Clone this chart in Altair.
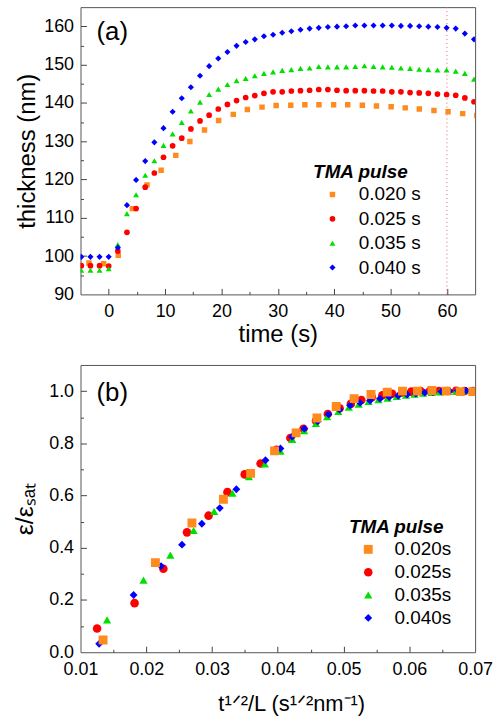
import altair as alt
import pandas as pd

FONT = "Liberation Sans"
W, H = 397, 289

# ---------------- panel (a) data ----------------
SERIES_A = ["0.020 s", "0.025 s", "0.035 s", "0.040 s"]
COLORS = ["#FF8A1E", "#FF0000", "#00E000", "#0000FF"]
SHAPES = ["square", "circle", "triangle-up", "diamond"]

time_grid = [-4.86, -3.24, -1.62, 0.0, 1.62, 3.24, 4.86, 6.48, 8.1, 9.72, 11.34,
             12.96, 14.58, 16.2, 17.82, 19.44, 21.06, 22.68, 24.3, 25.92, 27.54,
             29.16, 30.78, 32.4, 34.02, 35.64, 37.26, 38.88, 40.5, 42.12, 43.74,
             45.36, 46.98, 48.6, 50.22, 51.84, 53.46, 55.08, 56.7, 58.32, 59.94,
             61.56, 63.18, 64.8]

time_020 = [-3.5, -0.9, 1.7, 4.2, 6.8, 9.3, 11.9, 14.4, 17.0, 19.5, 22.1, 24.6,
            27.2, 29.7, 32.3, 34.8, 37.3, 39.9, 42.4, 45.0, 47.5, 50.1, 52.6,
            55.1, 57.7, 60.2, 62.8, 65.3]
thick_020 = [98.2, 98.0, 100.2, 112.4, 118.6, 122.4, 126.3, 129.9, 132.9, 135.4,
             137.0, 138.3, 138.9, 139.3, 139.4, 139.5, 139.5, 139.5, 139.5, 139.4,
             139.2, 139.0, 138.7, 138.4, 138.0, 137.7, 137.2, 136.7]

thick_025 = [97.5, 97.5, 97.5, 97.4, 101.3, 106.2, 112.4, 118.0, 121.7, 125.8,
             128.8, 130.8, 133.2, 135.3, 136.8, 138.4, 139.6, 140.6, 141.4, 141.9,
             142.5, 142.9, 142.9, 143.1, 143.2, 143.3, 143.5, 143.5, 143.3, 143.2,
             143.2, 143.2, 143.1, 143.1, 142.9, 142.9, 142.7, 142.6, 142.5, 142.3,
             142.2, 142.0, 141.3, 140.3]

thick_035 = [96.3, 96.3, 96.3, 96.7, 103.0, 111.1, 116.0, 121.1, 124.9, 128.9,
             131.9, 134.9, 137.9, 140.2, 142.2, 143.6, 144.8, 145.8, 146.4, 147.1,
             147.7, 148.1, 148.5, 148.7, 149.0, 149.1, 149.5, 149.4, 149.4, 149.4,
             149.5, 149.7, 149.5, 149.4, 149.3, 149.1, 149.0, 148.8, 148.7, 148.6,
             148.6, 148.3, 147.7, 146.2]

thick_040 = [99.8, 99.8, 99.8, 99.8, 102.2, 113.3, 119.9, 124.8, 129.7, 133.4,
             137.7, 141.2, 144.1, 147.1, 149.6, 151.6, 153.3, 154.9, 155.9, 156.6,
             157.4, 157.8, 158.3, 158.7, 159.1, 159.4, 159.6, 159.8, 159.9, 160.0,
             160.2, 160.2, 160.2, 160.2, 160.2, 160.1, 160.1, 160.0, 159.9, 159.8,
             159.6, 159.4, 158.1, 156.6]

# ---------------- panel (b) data ----------------
SERIES_B = ["0.020s", "0.025s", "0.035s", "0.040s"]

x_020 = [0.01343, 0.02139, 0.02694, 0.03173, 0.03586, 0.0395, 0.04278, 0.04595,
         0.04888, 0.0516, 0.05417, 0.05664, 0.05896, 0.06122, 0.06344, 0.06561,
         0.06773, 0.06965]
e_020 = [0.047, 0.343, 0.495, 0.586, 0.685, 0.771, 0.840, 0.897, 0.941, 0.971,
         0.987, 0.996, 1.0, 1.0, 1.002, 1.0, 0.998, 0.998]

x_025 = [0.01252, 0.01822, 0.0226, 0.02619, 0.02947, 0.03234, 0.03496, 0.03738,
         0.0398, 0.0419, 0.0439, 0.0458, 0.0476, 0.0494, 0.0511, 0.0527, 0.0543,
         0.0559, 0.0574, 0.0589, 0.0603, 0.0617, 0.0631, 0.0645, 0.0658, 0.0671,
         0.0684, 0.0697]
e_025 = [0.091, 0.188, 0.320, 0.459, 0.523, 0.613, 0.681, 0.723, 0.775, 0.820,
         0.856, 0.886, 0.912, 0.934, 0.951, 0.966, 0.976, 0.984, 0.990, 0.995,
         0.998, 1.0, 1.0, 1.0, 1.0, 1.001, 1.0, 1.0]

x_035 = [0.01404, 0.01958, 0.02366, 0.0272, 0.03032, 0.0331, 0.03561, 0.03803,
         0.0404, 0.0422, 0.0440, 0.0458, 0.0475, 0.0492, 0.0508, 0.0523, 0.0538,
         0.0553, 0.0567, 0.0581, 0.0595, 0.0608, 0.0621, 0.0634, 0.0646, 0.0659,
         0.0671, 0.0683, 0.0695]
e_035 = [0.124, 0.276, 0.372, 0.466, 0.539, 0.609, 0.672, 0.721, 0.770, 0.815,
         0.848, 0.876, 0.902, 0.922, 0.938, 0.950, 0.960, 0.967, 0.973, 0.979,
         0.984, 0.988, 0.992, 0.995, 0.997, 0.999, 1.0, 1.001, 1.002]

x_040 = [0.01283, 0.01807, 0.02225, 0.02543, 0.02845, 0.03118, 0.0337, 0.03576,
         0.03813, 0.0404, 0.04217, 0.04403, 0.04605, 0.04771, 0.04938, 0.05099,
         0.0525, 0.05402, 0.05553, 0.05694, 0.0583, 0.05966, 0.06098, 0.06234,
         0.0636, 0.06487, 0.06611, 0.06737, 0.06863, 0.0698]
e_040 = [0.032, 0.219, 0.330, 0.412, 0.492, 0.552, 0.624, 0.683, 0.735, 0.780,
         0.825, 0.856, 0.884, 0.911, 0.929, 0.945, 0.955, 0.964, 0.971, 0.977,
         0.982, 0.987, 0.990, 0.994, 0.996, 0.998, 1.0, 1.002, 1.002, 1.002]

PANEL_LABELS = ["(a)", "(b)"]
MARKER_LINE = [60]

# ---------------- tables ----------------
rows_a = []
for t, v in zip(time_020, thick_020):
    rows_a.append({"t": t, "v": v, "series": SERIES_A[0]})
for vals, s in [(thick_025, SERIES_A[1]), (thick_035, SERIES_A[2]), (thick_040, SERIES_A[3])]:
    for t, v in zip(time_grid, vals):
        rows_a.append({"t": t, "v": v, "series": s})
df_a = pd.DataFrame(rows_a)

rows_b = []
for xs, es, s in [(x_025, e_025, SERIES_B[1]), (x_035, e_035, SERIES_B[2]),
                  (x_040, e_040, SERIES_B[3]), (x_020, e_020, SERIES_B[0])]:
    for x, e in zip(xs, es):
        rows_b.append({"x": x, "e": e, "series": s})
df_b = pd.DataFrame(rows_b)

df_rule = pd.DataFrame({"t": MARKER_LINE})


def legend(x, y, symoff, laboff, rowpad):
    return alt.Legend(
        title="TMA pulse", orient="none", legendX=x, legendY=y,
        titleFont=FONT, titleFontSize=19, titleFontWeight="bold",
        titleFontStyle="italic", titleColor="black", titlePadding=3,
        labelFont=FONT, labelFontSize=19, labelColor="black",
        symbolOffset=symoff, labelOffset=laboff, rowPadding=rowpad, padding=0,
        symbolStrokeWidth=0, symbolOpacity=1,
    )


def tick_layers(data, xf, yf, xs, ys, xmaj, xmin, ymaj, ymin):
    out = []
    for xv, yv, sz in [(xmaj, ymaj, 6), (xmin, ymin, 3)]:
        out.append(
            alt.Chart(data).mark_point(opacity=0, size=1).encode(
                x=alt.X(xf, scale=xs, axis=alt.Axis(
                    orient="top", offset=-H, values=xv, labels=False, domain=False,
                    grid=False, ticks=True, tickSize=sz, tickColor="#444", title=None)),
                y=alt.Y(yf, scale=ys, axis=alt.Axis(
                    orient="right", offset=-W, values=yv, labels=False, domain=False,
                    grid=False, ticks=True, tickSize=sz, tickColor="#444", title=None)),
            )
        )
    return out


def panel_label(text, y):
    return alt.Chart(pd.DataFrame({"s": [text]})).mark_text(
        font=FONT, fontSize=26, align="left", baseline="alphabetic", color="black"
    ).encode(x=alt.value(16), y=alt.value(y), text="s:N")


# ---------------- panel (a) ----------------
xs_a = alt.Scale(domain=[-5, 65], nice=False, zero=False)
ys_a = alt.Scale(domain=[90, 165], nice=False, zero=False)
leg_a = legend(234, 157, 10, 17, 4.5)

pts_a = alt.Chart(df_a).mark_point(filled=True, opacity=1, strokeWidth=0, clip=True).encode(
    x=alt.X("t:Q", scale=xs_a, axis=alt.Axis(
        orient="bottom", values=[0, 10, 20, 30, 40, 50, 60], ticks=False, domain=False,
        grid=False, labelPadding=8, labelFlush=False, title="time (s)", titlePadding=2)),
    y=alt.Y("v:Q", scale=ys_a, axis=alt.Axis(
        orient="left", values=[90, 100, 110, 120, 130, 140, 150, 160], ticks=False,
        domain=False, grid=False, labelPadding=7, labelFlush=False,
        title="thickness (nm)", titlePadding=4)),
    color=alt.Color("series:N", scale=alt.Scale(domain=SERIES_A, range=COLORS), legend=leg_a),
    shape=alt.Shape("series:N", scale=alt.Scale(domain=SERIES_A, range=SHAPES), legend=leg_a),
    size=alt.Size("series:N", scale=alt.Scale(domain=SERIES_A, range=[30, 38, 45, 64]), legend=leg_a),
)

rule_a = alt.Chart(df_rule).mark_rule(color="#E8606A", strokeDash=[1, 3], strokeWidth=1).encode(
    x=alt.X("t:Q", scale=xs_a, axis=None)
)

panel_a = alt.layer(
    rule_a, pts_a, panel_label(PANEL_LABELS[0], 33),
    *tick_layers(df_a, "t:Q", "v:Q", xs_a, ys_a,
                 [0, 10, 20, 30, 40, 50, 60], [5, 15, 25, 35, 45, 55],
                 [100, 110, 120, 130, 140, 150, 160], [95, 105, 115, 125, 135, 145, 155]),
).resolve_axis(x="independent", y="independent").properties(width=W, height=H)

# ---------------- panel (b) ----------------
xs_b = alt.Scale(domain=[0.01, 0.07], nice=False, zero=False)
ys_b = alt.Scale(domain=[0, 1.1], nice=False, zero=False)
leg_b = legend(270, 154, 10, 17, 3)

pts_b = alt.Chart(df_b).mark_point(filled=True, opacity=1, strokeWidth=0, clip=True).encode(
    x=alt.X("x:Q", scale=xs_b, axis=alt.Axis(
        orient="bottom", values=[0.01, 0.02, 0.03, 0.04, 0.05, 0.06, 0.07], format=".2f",
        ticks=False, domain=False, grid=False, labelPadding=8, labelFlush=False,
        labelOverlap=False, title="t¹ᐟ²/L (s¹ᐟ²nm⁻¹)", titlePadding=16, titleFontSize=22,
        titleX=212, titleAlign="center")),
    y=alt.Y("e:Q", scale=ys_b, axis=alt.Axis(
        orient="left", values=[0, 0.2, 0.4, 0.6, 0.8, 1.0], format=".1f", ticks=False,
        domain=False, grid=False, labelPadding=7, labelFlush=False,
        title="ε/εₛₐₜ", titlePadding=11, titleFontSize=25)),
    color=alt.Color("series:N", scale=alt.Scale(domain=SERIES_B, range=COLORS), legend=leg_b),
    shape=alt.Shape("series:N", scale=alt.Scale(domain=SERIES_B, range=SHAPES), legend=leg_b),
    size=alt.Size("series:N", scale=alt.Scale(domain=SERIES_B, range=[80, 62, 100, 130]), legend=leg_b),
)

panel_b = alt.layer(
    pts_b, panel_label(PANEL_LABELS[1], 36),
    *tick_layers(df_b, "x:Q", "e:Q", xs_b, ys_b,
                 [0.02, 0.03, 0.04, 0.05, 0.06], [0.015, 0.025, 0.035, 0.045, 0.055, 0.065],
                 [0.2, 0.4, 0.6, 0.8, 1.0], [0.1, 0.3, 0.5, 0.7, 0.9]),
).resolve_axis(x="independent", y="independent").properties(width=W, height=H)

chart = alt.vconcat(panel_a, panel_b, spacing=17).resolve_scale(
    color="independent", shape="independent", size="independent"
).resolve_legend(
    color="independent", shape="independent", size="independent"
).properties(
    padding={"left": 12, "top": 4, "right": 0, "bottom": 2}
).configure_view(stroke="#555", strokeWidth=1).configure_axis(
    labelFont=FONT, titleFont=FONT, labelFontSize=18, titleFontSize=24,
    labelColor="black", titleColor="black", titleFontWeight="normal"
)

chart.save("out.html", embed_options={"renderer": "svg", "actions": False})
